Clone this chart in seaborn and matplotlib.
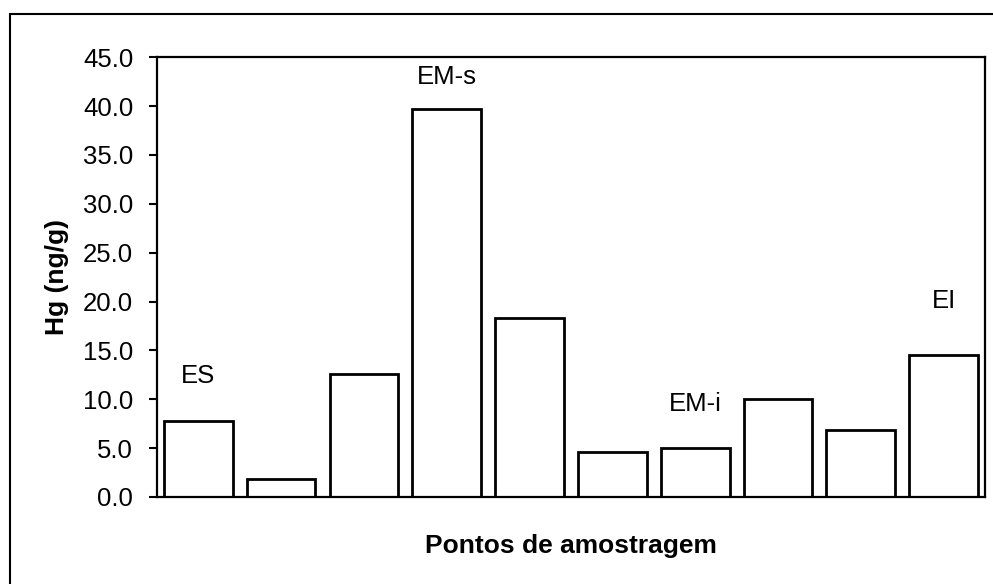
import matplotlib
matplotlib.use("Agg")
import matplotlib.pyplot as plt
import seaborn as sns
import pandas as pd
from matplotlib.patches import Rectangle

# dados
pontos = ["P1", "P2", "P3", "P4", "P5", "P6", "P7", "P8", "P9", "P10"]
hg = [7.8, 1.8, 12.6, 39.7, 18.3, 4.6, 5.0, 10.0, 6.85, 14.5]
rotulos = ["ES", "EM-s", "EM-i", "EI"]
rotulo_idx = [0, 3, 6, 9]
rotulo_y = [11.2, 41.8, 8.3, 18.8]
yticks = [0, 5, 10, 15, 20, 25, 30, 35, 40, 45]

sns.set_style("white")
plt.rcParams['font.family'] = ['Liberation Sans', 'DejaVu Sans']
plt.rcParams['text.color'] = 'black'
plt.rcParams['axes.labelcolor'] = 'black'
plt.rcParams['ytick.color'] = 'black'

df = pd.DataFrame({"ponto": pontos, "hg": hg})

fig = plt.figure(figsize=(9.93, 5.84), dpi=100)
ax = fig.add_axes([0.158, 0.149, 0.834, 0.753])

sns.barplot(data=df, x="ponto", y="hg", color="white", edgecolor="black",
            linewidth=2, width=0.83, saturation=1, ax=ax)

for nome, i, y in zip(rotulos, rotulo_idx, rotulo_y):
    ax.text(i, y, nome, ha="center", va="bottom", fontsize=18.5, color="black")

ax.set_ylim(0, 45)
ax.set_xlim(-0.5, len(pontos) - 0.5)
ax.set_yticks(yticks)
ax.set_yticklabels([f"{v:.1f}" for v in yticks], fontsize=18.5)
ax.set_xticks([])
ax.tick_params(axis="y", left=True, length=6, width=1.5, direction="out", pad=11)
for s in ax.spines.values():
    s.set_linewidth(1.6)
    s.set_color("black")

ax.set_xlabel("Pontos de amostragem", fontsize=19, fontweight="bold", labelpad=27)
ax.set_ylabel("Hg (ng/g)", fontsize=19, fontweight="bold", labelpad=10)

# moldura externa
fig.patches.append(Rectangle((10 / 993, -0.1), 1.2, 1 - 14 / 584 + 0.1,
                             transform=fig.transFigure, fill=False,
                             edgecolor="black", linewidth=1.5))

plt.savefig("out.png", dpi=100)
